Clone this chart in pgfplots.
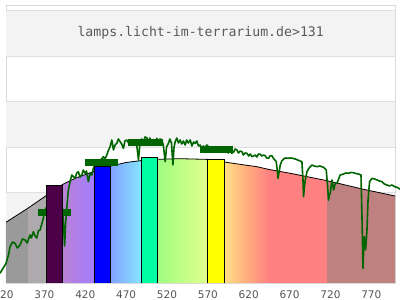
\documentclass[border=0pt]{standalone}
\usepackage{fontspec}
\setmainfont{DejaVu Sans}
\newfontfamily\monofont{DejaVu Sans Mono}
\usepackage{pgfplots}
\pgfplotsset{compat=1.18}
\definecolor{bandgray}{HTML}{F3F3F3}
\definecolor{gridgray}{HTML}{DFDFDF}
\definecolor{framegray}{HTML}{DADADA}
\definecolor{labelgray}{HTML}{555555}
\definecolor{titlegray}{HTML}{5A5A5A}
\definecolor{sgreen}{HTML}{006400}
\definecolor{cuvc}{HTML}{9A9A9A}
\definecolor{cuvb}{HTML}{ADA9AD}
\definecolor{cviol1}{HTML}{BA82D6}
\definecolor{cviol2}{HTML}{A27DFF}
\definecolor{cblue1}{HTML}{82A2FF}
\definecolor{cblue2}{HTML}{86E6FF}
\definecolor{cgreen1}{HTML}{A0FD80}
\definecolor{cgreen2}{HTML}{E2FF8E}
\definecolor{corange1}{HTML}{FFE084}
\definecolor{corange2}{HTML}{FFB27F}
\definecolor{cred}{HTML}{FF8080}
\definecolor{cir}{HTML}{BF8080}
\definecolor{barpurple}{HTML}{4B0048}
\definecolor{barblue}{HTML}{0000FF}
\definecolor{barcyan}{HTML}{00FFA2}
\definecolor{baryellow}{HTML}{FFFF00}
\begin{document}
\begin{tikzpicture}
\path[use as bounding box] (0pt,0pt) rectangle (400pt,300pt);
\begin{axis}[
  at={(6pt,17pt)}, anchor=south west,
  width=389pt, height=278pt, scale only axis,
  xmin=323, xmax=799, ymin=0, ymax=278,
  clip=false,
  axis line style={draw=framegray, line width=0.8pt},
  xtick={370,420,...,770},
  ytick=\empty,
  major tick length=0pt,
  xticklabel style={font=\fontsize{10.5}{12}\selectfont, text=labelgray, inner sep=0pt, anchor=north, yshift=-7.6pt},
  /pgf/number format/assume math mode=true,
  /pgf/number format/set thousands separator={},
]
% background bands
\fill[bandgray] (axis cs:323,45.35) rectangle (axis cs:799,90.7);
\fill[bandgray] (axis cs:323,136.05) rectangle (axis cs:799,181.4);
\fill[bandgray] (axis cs:323,226.75) rectangle (axis cs:799,272.1);
\draw[gridgray, line width=0.8pt] (axis cs:323,45.35) -- (axis cs:799,45.35);
\draw[gridgray, line width=0.8pt] (axis cs:323,90.7) -- (axis cs:799,90.7);
\draw[gridgray, line width=0.8pt] (axis cs:323,136.05) -- (axis cs:799,136.05);
\draw[gridgray, line width=0.8pt] (axis cs:323,181.4) -- (axis cs:799,181.4);
\draw[gridgray, line width=0.8pt] (axis cs:323,226.75) -- (axis cs:799,226.75);
\draw[gridgray, line width=0.8pt] (axis cs:323,272.1) -- (axis cs:799,272.1);
% spectrum fill under the curve
\addplot[draw=none, fill=cuvc] coordinates {(323,60.7)(350,74.9)} \closedcycle;
\addplot[draw=none, fill=cuvb] coordinates {(350,74.9)(360,80.5)(372,87.3)} \closedcycle;
\addplot[draw=none, fill=barpurple] coordinates {(372,87.3)(382,93)(392.5,98.7)} \closedcycle;
\addplot[draw=none, left color=cviol1, right color=cviol2] coordinates {(392.5,98.7)(410,105.5)(431,111.6)} \closedcycle;
\addplot[draw=none, fill=barblue] coordinates {(431,111.6)(451,117)} \closedcycle;
\addplot[draw=none, left color=cblue1, right color=cblue2] coordinates {(451,117)(470,120.5)(489,122.5)} \closedcycle;
\addplot[draw=none, fill=barcyan] coordinates {(489,122.5)(508.5,123.7)} \closedcycle;
\addplot[draw=none, left color=cgreen1, right color=cgreen2] coordinates {(508.5,123.7)(536,124.3)(570,123.6)} \closedcycle;
\addplot[draw=none, fill=baryellow] coordinates {(570,123.6)(590,121)} \closedcycle;
\addplot[draw=none, left color=corange1, right color=corange2] coordinates {(590,121)(615,118)} \closedcycle;
\addplot[draw=none, left color=corange2, right color=cred] coordinates {(615,118)(630,116.3)(645,113.5)} \closedcycle;
\addplot[draw=none, fill=cred] coordinates {(645,113.5)(670.8,109.7)(716,102.3)} \closedcycle;
\addplot[draw=none, fill=cir] coordinates {(716,102.3)(760,93.8)(799,87)} \closedcycle;
% curve outline
\addplot[black, line width=0.8pt] coordinates {(323,60.7)(350,74.9)(360,80.5)(372,87.3)(382,93)(392.5,98.7)(410,105.5)(431,111.6)(451,117)(470,120.5)(489,122.5)(508.5,123.7)(536,124.3)(570,123.6)(590,121)(615,118)(630,116.3)(645,113.5)(670.8,109.7)(716,102.3)(760,93.8)(799,87)};
% measured spectrum
\addplot[sgreen, line width=1.6pt, line join=round] coordinates {
(315.7,9.7)(323.1,19.7)(326,28)(328.0,36.3)(331,41)(334.1,39.7)(337,35)(340.2,38)(343,44)(346.3,43)(349,40)(352.4,48)(354,45)(356.5,51.3)(358.5,47)(360.7,45)(362.5,52)(364.7,53)(366.5,58)(368.7,64.7)(370,70)(371.7,74.7)(380,82)(388,85)(392.5,73)(394.7,37)(396,60)(397.4,75)(399.3,93)(401.4,101.3)(403.5,108)(405.5,106.3)(407.6,104.7)(409.5,110)(411.6,111.3)(413.5,106)(415.8,108)(417.5,113)(419.8,109.7)(421.5,112)(423.8,101.3)(426,110)(428.0,108)(429.9,114.7)(432,118)(436,121)(440,124)(442.2,126.3)(444,124)(446.4,128)(448,132)(450.4,136.3)(452.5,143)(454.5,133)(456.5,138)(458.6,139.7)(460.5,144)(462.7,141.3)(464.5,139)(466.7,134.7)(468.5,142)(470.9,143)(473,140)(474.9,143)(477,139)(478.9,141.3)(481.0,141.3)(483,138)(485.1,123)(487.1,141.3)(489,144)(491,140)(493,146)(495.3,145.3)(497,141)(499,145)(501.5,139.7)(503.5,143)(505.5,140)(507.6,144.7)(509.5,141)(511.5,144)(513.7,143)(515.5,138)(517.8,121.3)(519.5,136)(521.8,139.7)(523.5,144)(525.5,140)(527.2,118)(528.5,135)(530.0,141.3)(532,145)(534,140)(536.1,143)(538,139)(540,142)(542.2,138)(544,143)(546,140)(548.4,143)(550.5,137)(552.5,141)(554.5,139.7)(556.5,142)(558.5,137)(560.6,138)(562.5,134)(564.5,137)(566.7,134.7)(568.5,138)(570.8,136.3)(573,132)(575,135)(576.9,133)(579,136)(581,131)(583,134)(585.1,134.7)(587,131)(589,133)(591.2,131.3)(593,134)(595,130)(597,132)(599.4,129.7)(601.5,131)(603.5,134)(605.6,133)(607.5,130)(609.5,132)(611.7,131.3)(613.5,128)(615.5,130)(617.8,129.7)(620,127)(622,129)(623.9,126.3)(626,127)(628.0,128)(630,126)(632,129)(634.1,128.7)(636,127)(638,128)(640.2,127.3)(642,125)(644.3,124.7)(646,127)(648.4,127.3)(650,125)(652,123)(653.7,121.3)(655,112)(655.8,104.7)(657,110)(658.6,118)(660.5,122)(662.6,124)(665,125)(668.7,124.7)(672,125)(676.9,124)(680,123)(683,122)(685.1,121.3)(686.4,103)(687.1,86.3)(688,95)(689.2,103)(691.3,111.3)(693,114)(695.3,116.3)(697.4,118)(700,117)(703.5,116.3)(707,117)(711.6,115.7)(714.9,113)(716.5,96.3)(717.7,83)(718.7,88)(719.8,89.7)(721.9,103)(723.9,93)(726,100)(728.0,99.7)(730,104)(732.0,108)(736.1,109)(739,110)(742.2,109.7)(745,110.5)(748.3,110.3)(751,109.5)(754.4,109)(757.4,108)(758.6,66.3)(759.8,14.7)(760.5,30)(761.4,46.3)(763.0,33)(764.7,53)(766.0,83)(767.9,101.3)(770.9,104.7)(774,104)(777.0,103)(780,102)(783.1,101.3)(786,99)(789.2,98)(792,97)(795.3,98)(798,96.5)(801.4,95.7)(805.5,93.7)};
% band averages
\addplot[sgreen, line width=6.6pt] coordinates {(362,70.7)(402.6,70.7)};
\addplot[sgreen, line width=6.6pt] coordinates {(419.8,120.7)(460.6,120.7)};
\addplot[sgreen, line width=6.6pt] coordinates {(472.6,140.3)(515.5,140.3)};
\addplot[sgreen, line width=6.6pt] coordinates {(559.8,133.5)(600.6,133.5)};
% colour bars
\addplot[fill=barpurple, draw=black, line width=0.9pt] coordinates {(372,0)(372,98)(392.5,98)(392.5,0)};
\addplot[fill=barblue, draw=black, line width=0.9pt] coordinates {(431,0)(431,117)(451,117)(451,0)};
\addplot[fill=barcyan, draw=black, line width=0.9pt] coordinates {(489,0)(489,125.7)(508.5,125.7)(508.5,0)};
\addplot[fill=baryellow, draw=black, line width=0.9pt] coordinates {(570,0)(570,124)(590,124)(590,0)};
\node[font=\fontsize{10.5}{12}\selectfont, text=labelgray, inner sep=0pt, anchor=north, yshift=-7.6pt] at (axis cs:320,0) {320};
\end{axis}
\node[font=\monofont\fontsize{13.2}{15}\selectfont, text=titlegray, inner sep=0pt] at (200.7pt,267pt) {lamps.licht-im-terrarium.de>131};
\end{tikzpicture}
\end{document}
